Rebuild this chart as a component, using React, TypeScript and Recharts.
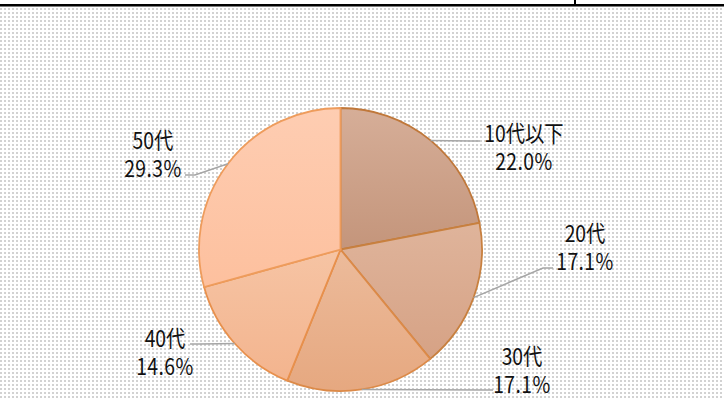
import React from 'react';
import { PieChart, Pie, Cell } from 'recharts';

const categories = ['10代以下', '20代', '30代', '40代', '50代'];
const shares = [22.0, 17.1, 17.1, 14.6, 29.3];

const data = categories.map((name, i) => ({ name, value: shares[i] }));

const gradTop = ['#D6AE98', '#DFB49B', '#ECBB9B', '#F6C4A4', '#FECDB2'];
const gradBottom = ['#C4957B', '#D6A285', '#E6A880', '#F3B48E', '#FDC09E'];
const strokes = ['#C0783A', '#C8803F', '#DC8A48', '#E8904C', '#EE9C5C'];

// label layout relative to pie centre: text centre x, first baseline y, leader attach point
const labelLayout = [
  { tx: 183.5, ty: -107.5, ax: 139.5, ay: -108.5 },
  { tx: 244.5, ty: -7.5, ax: 212.5, ay: 18.5 },
  { tx: 181.5, ty: 115.5, ax: 152.5, ay: 140.5 },
  { tx: -175.5, ty: 97.5, ax: -150.5, ay: 94.5 },
  { tx: -187.5, ty: -100.5, ax: -155.5, ay: -74.5 },
];

const W = 724;
const H = 400;
const RAD = Math.PI / 180;
const FONT = "'Noto Sans CJK JP', sans-serif";
const SX = 0.92;
const SY = 1.08;

const renderLabel = (props: any) => {
  const { cx, cy, midAngle, outerRadius, index, name, value } = props;
  const L = labelLayout[index];
  const px = cx + outerRadius * Math.cos(-midAngle * RAD);
  const py = cy + outerRadius * Math.sin(-midAngle * RAD);
  const ax = cx + L.ax;
  const ay = cy + L.ay;
  const right = L.ax > 0;
  const ex = right ? ax - 10 : ax + 10;
  const tx = cx + L.tx;
  const ty = cy + L.ty;
  return (
    <g key={`lbl-${index}`}>
      <polyline
        points={`${px},${py} ${ex},${ay} ${ax},${ay}`}
        fill="none"
        stroke="#A6A6A6"
        strokeWidth={1.5}
      />
      <text
        x={tx}
        y={ty}
        textAnchor="middle"
        fill="#111111"
        fontSize={21}
        fontFamily={FONT}
        transform={`translate(${tx},${ty}) scale(${SX},${SY}) translate(${-tx},${-ty})`}
      >
        <tspan x={tx} y={ty}>{name}</tspan>
        <tspan x={tx} y={ty + 28 / SY} letterSpacing={0.5}>{`${Number(value).toFixed(1)}%`}</tspan>
      </text>
    </g>
  );
};

export default function App() {
  return (
    <div style={{ position: 'fixed', left: 0, top: 0, width: W, height: H, background: '#ffffff' }}>
      <svg width={W} height={H} style={{ position: 'absolute', left: 0, top: 0 }}>
        <defs>
          <pattern id="dots" x="0" y="0" width="4" height="4" patternUnits="userSpaceOnUse">
            <rect x="0" y="0" width="2" height="2" fill="#D2D2D2" />
          </pattern>
          {categories.map((c, i) => (
            <linearGradient key={c} id={`g${i}`} x1="0" y1="0" x2="0" y2="1">
              <stop offset="0%" stopColor={gradTop[i]} />
              <stop offset="100%" stopColor={gradBottom[i]} />
            </linearGradient>
          ))}
        </defs>
        <rect x={0} y={7} width={W} height={H - 7} fill="url(#dots)" />
        <rect x={0} y={4} width={W} height={2.5} fill="#000000" />
        <rect x={574} y={0} width={2} height={5} fill="#000000" />
      </svg>
      <div style={{ position: 'absolute', left: 0, top: 0 }}>
        <PieChart width={W} height={H} margin={{ top: 0, right: 0, bottom: 0, left: 0 }}>
          <Pie
            data={data}
            dataKey="value"
            nameKey="name"
            cx={340.5}
            cy={249.5}
            outerRadius={141.5}
            startAngle={90}
            endAngle={-270}
            label={renderLabel}
            labelLine={false}
            isAnimationActive={false}
          >
            {data.map((d, i) => (
              <Cell key={d.name} fill={`url(#g${i})`} stroke={strokes[i]} strokeWidth={1.8} />
            ))}
          </Pie>
        </PieChart>
      </div>
    </div>
  );
}
